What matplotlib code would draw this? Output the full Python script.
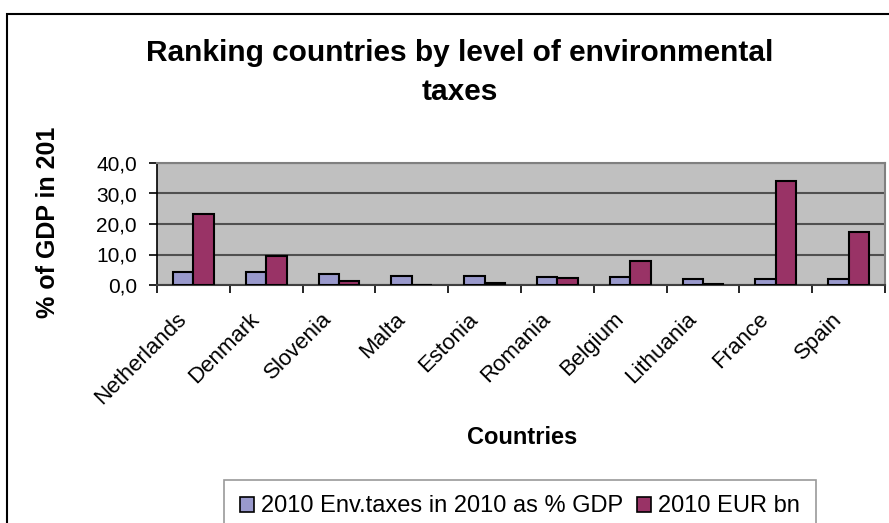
import numpy as np
import matplotlib
matplotlib.use("Agg")
import matplotlib.pyplot as plt
from matplotlib.patches import Rectangle, Patch
from matplotlib.transforms import Bbox, TransformedBbox

plt.rcParams['font.family'] = ['Liberation Sans', 'DejaVu Sans']

# data
countries = ["Netherlands", "Denmark", "Slovenia", "Malta", "Estonia",
             "Romania", "Belgium", "Lithuania", "France", "Spain"]
env_tax_pct_gdp = [4.2, 4.2, 3.6, 3.0, 3.0, 2.5, 2.5, 2.0, 2.0, 1.9]
eur_bn = [23.3, 9.5, 1.3, 0.0, 0.6, 2.4, 7.9, 0.4, 34.1, 17.5]
yticks = [0, 10, 20, 30, 40]
ytick_labels = ["0,0", "10,0", "20,0", "30,0", "40,0"]

W, H = 889, 523
fig = plt.figure(figsize=(W / 100, H / 100), dpi=100)
fig.patch.set_facecolor('white')

# outer chart border (only top and left visible in the crop)
fig.add_artist(Rectangle((7 / W, -0.2), 1.5, 1 - 14 / H + 0.2, transform=fig.transFigure,
                         fill=False, edgecolor='black', linewidth=1.5))

ax = fig.add_axes([157 / W, 1 - 285 / H, (885 - 157) / W, (285 - 163) / H])
ax.set_facecolor('#C0C0C0')

x = np.arange(len(countries))
w = 0.28
ax.bar(x - w / 2, env_tax_pct_gdp, w, color='#9999CC', edgecolor='black', linewidth=1.5, zorder=3)
ax.bar(x + w / 2, eur_bn, w, color='#993366', edgecolor='black', linewidth=1.5, zorder=3)

ax.set_xlim(-0.5, len(countries) - 0.5)
ax.set_ylim(0, 40)
ax.set_yticks(yticks)
ax.set_yticklabels(ytick_labels, fontsize=15)
ax.yaxis.grid(True, color='#505050', linewidth=1.5, zorder=1)
ax.set_axisbelow(True)

# labels hang a little left of each category centre
ax.set_xticks(x - 0.24)
ax.set_xticklabels(countries, fontsize=16, rotation=45, ha='right', va='top',
                   rotation_mode='anchor')
ax.set_xticks(np.arange(-0.5, len(countries)), minor=True)
ax.tick_params(axis='x', which='major', length=0, pad=17)
ax.tick_params(axis='x', which='minor', length=5.8, width=1.2, color='black')
ax.tick_params(axis='y', length=5.8, width=1.2, color='black', pad=8.6)

for s in ['top', 'right']:
    ax.spines[s].set_color('#808080')
    ax.spines[s].set_linewidth(1.5)
ax.spines['left'].set_color('black')
ax.spines['bottom'].set_color('#404040')
ax.spines['left'].set_linewidth(1.2)
ax.spines['bottom'].set_linewidth(1.5)

fig.text(460 / W, 1 - 53 / H, "Ranking countries by level of environmental",
         ha='center', va='center', fontsize=21.5, fontweight='bold')
fig.text(460 / W, 1 - 92 / H, "taxes",
         ha='center', va='center', fontsize=21.5, fontweight='bold')

yl = fig.text(48 / W, 1 - 318 / H, "% of GDP in 2010", rotation=90, rotation_mode='anchor',
              ha='left', va='center', fontsize=18, fontweight='bold')
yl.set_clip_box(TransformedBbox(Bbox([[0, 0], [1, 1 - 127 / H]]), fig.transFigure))
yl.set_clip_on(True)

fig.text(522 / W, 1 - 438 / H, "Countries", ha='center', va='center',
         fontsize=17, fontweight='bold')

handles = [Patch(facecolor='#9999CC', edgecolor='black', linewidth=1.2),
           Patch(facecolor='#993366', edgecolor='black', linewidth=1.2)]
leg = fig.legend(handles, ["2010 Env.taxes in 2010 as % GDP", "2010 EUR bn"],
                 loc='upper center', bbox_to_anchor=(520 / W, 1 - 480 / H), ncol=2,
                 fontsize=17, frameon=True, fancybox=False, edgecolor='#808080',
                 handlelength=0.6, handleheight=0.6, handletextpad=0.3, columnspacing=0.6,
                 borderpad=0.65, borderaxespad=0)
leg.get_frame().set_linewidth(1.2)

fig.savefig("out.png", dpi=100)
